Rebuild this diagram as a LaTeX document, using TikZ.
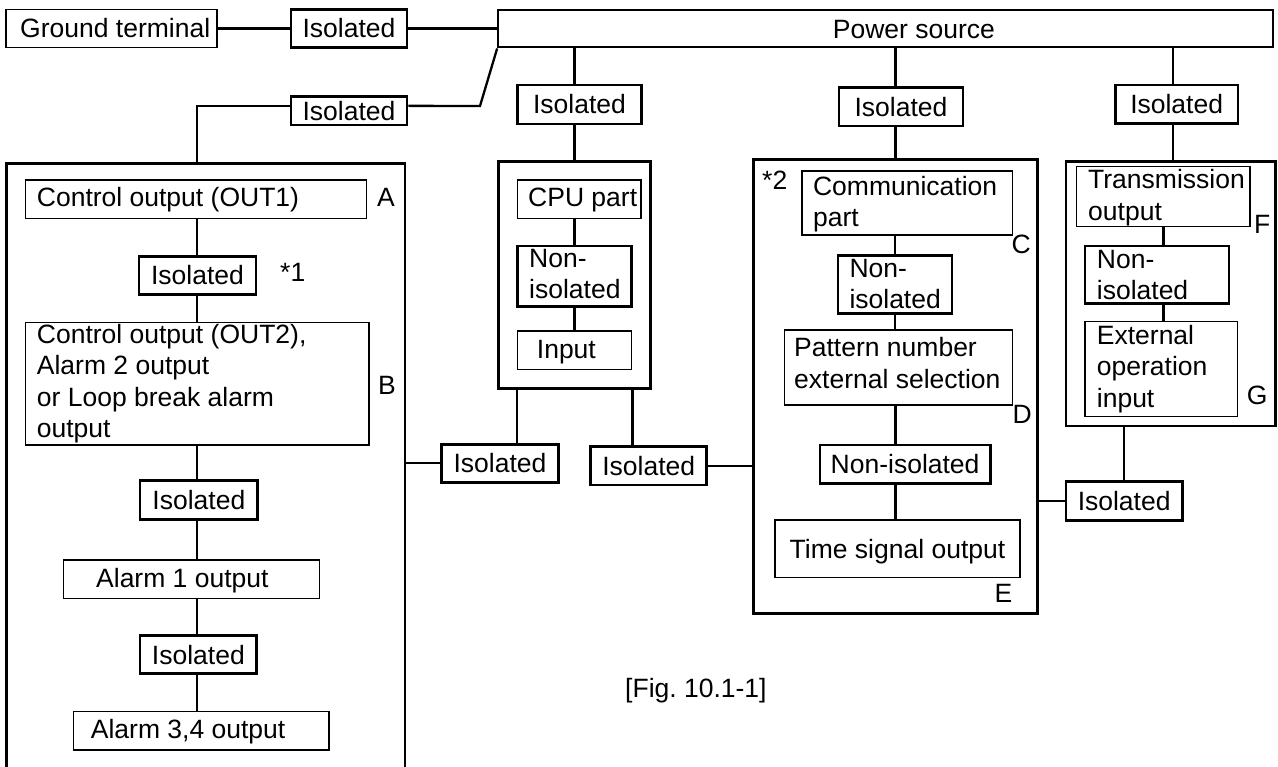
\documentclass[tikz,border=0pt]{standalone}
\usepackage{fontspec}
\setmainfont{Liberation Sans}
\usetikzlibrary{calc}
\tikzset{
  every node/.style={font=\fontsize{26.5}{31.5}\selectfont\frenchspacing},
  thinbox/.style={draw, line width=1.3pt, inner sep=0pt, text height=19pt, text depth=0pt},
  thickbox/.style={draw, line width=2.7pt, inner sep=0pt, text height=19pt, text depth=0pt},
  powerbox/.style={draw, line width=2.3pt, inner sep=0pt},
  conn/.style={line width=2.3pt, line cap=butt},
  lbl/.style={inner sep=0pt, anchor=base west},
}
\newcommand{\bx}[7]{\node[#1, minimum width={(#5)-(#3)}, minimum height={(#6)-(#4)}] (#2) at ({((#3)+(#5))/2},{((#4)+(#6))/2}) {#7};}
\newcommand{\ml}[1]{\parbox[t]{400pt}{\raggedright #1}}
\begin{document}
\frenchspacing
\begin{tikzpicture}[x=1pt,y=-1pt]
\fill[white] (0,0) rectangle (1278,767);
\useasboundingbox (0,0) rectangle (1278,767);
\clip (0,0) rectangle (1278,767);

% top row
\bx{thinbox}{ground}{6}{9.3}{217}{47.7}{}
\node[lbl] (ground-t) at (20,38) {Ground terminal};
\bx{thickbox}{iso1}{291}{9.3}{407}{47.7}{Isolated}
\bx{powerbox}{power}{498.3}{10}{1273}{47.3}{}
\node[lbl] (power-t) at (832.7,38.2) {Power source};
\bx{thickbox}{iso2}{291}{96.7}{407}{125}{Isolated}
\coordinate (kink) at (480,106);

% left block
\bx{thickbox}{leftbox}{6.7}{163.3}{405}{790}{}
\coordinate (lx) at (197,0);
\bx{thinbox}{A}{25.7}{180}{366.7}{218.3}{}
\node[lbl] (A-t) at (36.7,207) {Control output (OUT1)};
\node[lbl] (A-l) at (377,207) {A};
\bx{thickbox}{iso3}{139}{256.7}{256}{294.3}{Isolated}
\node[lbl] (n1) at (280,282) {*1};
\bx{thinbox}{B}{25.7}{322.3}{369}{445}{}
\node[lbl] (B-t) at (36.7,343.3) {\ml{Control output (OUT2),\\Alarm 2 output\\or Loop break alarm\\output}};
\node[lbl] (B-l) at (378,395) {B};
\bx{thickbox}{iso4}{140}{480.7}{257.7}{519.3}{Isolated}
\bx{thinbox}{al1}{63.3}{560}{319.3}{598.3}{}
\node[lbl] (al1-t) at (96,587.5) {Alarm 1 output};
\bx{thickbox}{iso5}{140}{635.7}{256.7}{673.3}{Isolated}
\bx{thinbox}{al34}{73.3}{711.7}{329}{750}{}
\node[lbl] (al34-t) at (90.7,738.5) {Alarm 3,4 output};

% CPU block
\bx{thickbox}{isoc}{517.3}{85}{641.7}{124}{Isolated}
\bx{thickbox}{cpu}{498.3}{161.7}{650.7}{388.3}{}
\bx{thinbox}{cpupart}{517.3}{180}{641}{218.3}{}
\node[lbl] (cpupart-t) at (528,206.7) {CPU part};
\bx{thickbox}{nonisoA}{517.3}{246}{631.7}{306.7}{}
\node[lbl] (nonisoA-t) at (529,267.3) {\ml{Non-\\isolated}};
\bx{thinbox}{input}{517.3}{331}{631.7}{369.3}{}
\node[lbl] (input-t) at (536.7,358.5) {Input};
\bx{thickbox}{iso6}{441.7}{444.3}{558.3}{482.3}{Isolated}
\bx{thickbox}{iso7}{590.7}{446.7}{706.7}{485}{Isolated}

% communication block
\bx{thickbox}{isom}{839}{87.3}{963}{126}{Isolated}
\bx{thickbox}{comm}{753.7}{159.3}{1037.3}{613.3}{}
\node[lbl] (n2) at (762,190) {*2};
\bx{thinbox}{commpart}{801.9}{171}{1012.5}{235}{}
\node[lbl] (commpart-t) at (812.9,195.3) {\ml{Communication\\part}};
\node[lbl] (C-l) at (1011.5,253.3) {C};
\bx{thickbox}{nonisoB}{838}{255.7}{952}{313.3}{}
\node[lbl] (nonisoB-t) at (849.3,277.5) {\ml{Non-\\isolated}};
\bx{thinbox}{pattern}{784.7}{330}{1012.5}{405}{}
\node[lbl] (pattern-t) at (794,357) {\ml{Pattern number\\external selection}};
\node[lbl] (D-l) at (1012.5,423.3) {D};
\bx{thickbox}{nonisoC}{820}{445}{990.2}{483.3}{Non-isolated}
\bx{thinbox}{time}{775}{520}{1020}{577.3}{Time signal output}
\node[lbl] (E-l) at (994.3,602.3) {E};

% F/G block
\bx{thickbox}{isor}{1115.3}{85}{1238}{123.3}{Isolated}
\bx{thickbox}{fg}{1066}{161.7}{1275.7}{426}{}
\coordinate (fgtop) at ([xshift=2pt]fg.north);
\bx{thinbox}{trans}{1076.7}{166.7}{1250}{226.7}{}
\node[lbl] (trans-t) at (1088,189) {\ml{Transmission\\output}};
\node[lbl] (F-l) at (1254,234) {F};
\bx{thickbox}{nonisoD}{1085}{246}{1229}{303.3}{}
\node[lbl] (nonisoD-t) at (1096.7,268.3) {\ml{Non-\\isolated}};
\bx{thinbox}{ext}{1085}{321.7}{1237.3}{416.7}{}
\node[lbl] (ext-t) at (1096.7,344.5) {\ml{External\\operation\\input}};
\node[lbl] (G-l) at (1246.7,405) {G};
\bx{thickbox}{iso8}{1066}{481.7}{1182.3}{520.7}{Isolated}

\node[lbl] (fig) at (625,697) {[Fig. 10.1-1]};

% connectors
\draw[conn] (ground.east) -- (iso1.west);
\draw[conn] (iso1.east) -- (iso1.east -| power.west);
\draw[conn] ([yshift=5pt]iso2.west) -| (lx |- leftbox.north);
\draw[conn] ([yshift=5pt]iso2.east) -- (kink) -- (power.south west);
\draw[conn] (lx |- A.south) -- (lx |- iso3.north);
\draw[conn] (lx |- iso3.south) -- (lx |- B.north);
\draw[conn] (lx |- B.south) -- (lx |- iso4.north);
\draw[conn] (lx |- iso4.south) -- (lx |- al1.north);
\draw[conn] (lx |- al1.south) -- (lx |- iso5.north);
\draw[conn] (lx |- iso5.south) -- (lx |- al34.north);

\draw[conn] (power.south -| cpu.north) -- (isoc.north -| cpu.north);
\draw[conn] (isoc.south -| cpu.north) -- (cpu.north);
\draw[conn] (cpupart.south -| nonisoA.north) -- (nonisoA.north);
\draw[conn] (nonisoA.south) -- (input.north);
\draw[conn] (input.south west |- cpu.south) -- (input.south west |- iso6.north);
\draw[conn] (input.south east |- cpu.south) -- (input.south east |- iso7.north);
\draw[conn] (leftbox.east |- iso6.west) -- (iso6.west);
\draw[conn] (iso7.east) -- (iso7.east -| comm.west);

\draw[conn] (power.south -| comm.north) -- (isom.north -| comm.north);
\draw[conn] (isom.south -| comm.north) -- (comm.north);
\draw[conn] (commpart.south -| nonisoB.north) -- (nonisoB.north);
\draw[conn] (nonisoB.south) -- (nonisoB.south |- pattern.north);
\draw[conn] (pattern.south -| comm.north) -- (nonisoC.north -| comm.north);
\draw[conn] (nonisoC.south -| comm.north) -- (time.north -| comm.north);
\draw[conn] (comm.east |- iso8.west) -- (iso8.west);

\draw[conn] (power.south -| fgtop) -- (isor.north -| fgtop);
\draw[conn] (isor.south -| fgtop) -- (fgtop);
\draw[conn] (trans.south) -- (trans.south |- nonisoD.north);
\draw[conn] (trans.south |- nonisoD.south) -- (trans.south |- ext.north);
\draw[conn] (fg.south -| iso8.north) -- (iso8.north);
\end{tikzpicture}
\end{document}
